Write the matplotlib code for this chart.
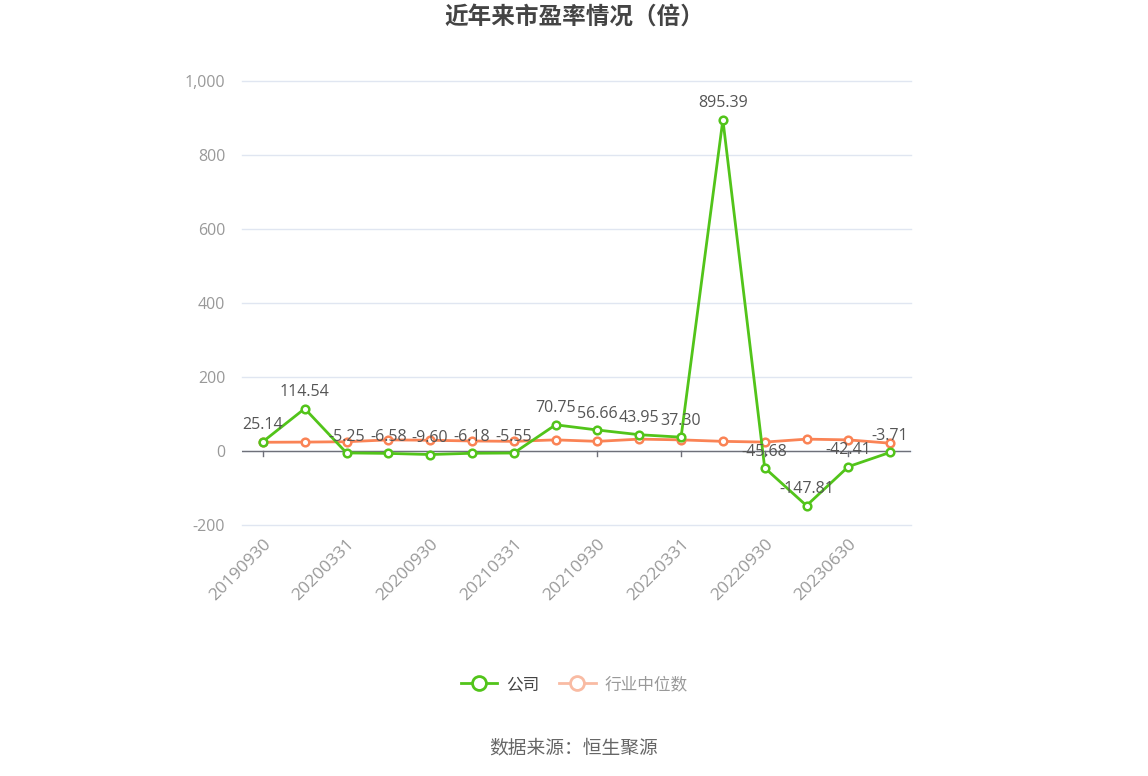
import matplotlib
matplotlib.use("Agg")
import matplotlib.pyplot as plt
from matplotlib.lines import Line2D
from matplotlib.ticker import FuncFormatter

plt.rcParams['font.family'] = ['Open Sans', 'Noto Sans CJK SC', 'DejaVu Sans']

dates = ["20190930", "20191231", "20200331", "20200630", "20200930", "20201231",
         "20210331", "20210630", "20210930", "20211231", "20220331", "20220630",
         "20220930", "20230331", "20230630", "20230930"]
company_pe = [25.14, 114.54, -5.25, -6.58, -9.60, -6.18, -5.55, 70.75,
              56.66, 43.95, 37.30, 895.39, -45.68, -147.81, -42.41, -3.71]
industry_pe = [23.5, 24, 25, 30, 29, 27, 26, 30, 26, 32, 30, 26, 24, 32, 30, 21]

GREEN = "#52c41a"
ORANGE = "#fa8355"

fig = plt.figure(figsize=(11.48, 7.76), dpi=100)
ax = fig.add_axes([0.2108, 0.3235, 0.5828, 0.5721])

x = list(range(len(dates)))
ax.plot(x, industry_pe, color=ORANGE, lw=2, marker="o", ms=5.5,
        mfc="white", mec=ORANGE, mew=1.8, zorder=3)
ax.plot(x, company_pe, color=GREEN, lw=2, marker="o", ms=5.5,
        mfc="white", mec=GREEN, mew=1.8, zorder=4)

for i, v in enumerate(company_pe):
    ax.annotate(f"{v:.2f}", (i, v), xytext=(0, 6), textcoords="offset points",
                ha="center", va="bottom", fontsize=11.5, color="#555555", zorder=5)

ax.set_xlim(-0.5, 15.5)
ax.set_ylim(-200, 1000)
ax.set_yticks(range(-200, 1001, 200))
ax.yaxis.set_major_formatter(FuncFormatter(lambda v, p: f"{int(v):,}"))
ax.grid(axis="y", color="#e0e6f1", lw=1, clip_on=False)
ax.set_axisbelow(True)
for s in ax.spines.values():
    s.set_visible(False)
ax.axhline(0, color="#6e7079", lw=1, zorder=2)

ax.set_xticks(x[::2])
ax.set_xticklabels(dates[::2], rotation=45, ha="right", rotation_mode="anchor",
                   fontsize=12.5, color="#999999")
ax.tick_params(axis="x", length=0, pad=8)
ax.tick_params(axis="y", length=0, labelsize=11.5, labelcolor="#999999", pad=12)
for xi in x[::2]:
    ax.plot([xi, xi], [0, -14], color="#6e7079", lw=1, zorder=2, clip_on=False)

fig.text(0.5, 0.977, "近年来市盈率情况（倍）", ha="center", va="center",
         fontsize=17, fontweight="bold", color="#444444")

handles = [
    Line2D([], [], color=GREEN, lw=2, marker="o", ms=10, mfc="white", mec=GREEN, mew=2),
    Line2D([], [], color="#f9bba3", lw=2, marker="o", ms=10, mfc="white", mec="#f9bba3", mew=2),
]
leg = fig.legend(handles, ["公司", "行业中位数"], loc="center", bbox_to_anchor=(0.5, 0.117),
                 ncol=2, frameon=False, fontsize=12, handlelength=2.2,
                 columnspacing=1.2, handletextpad=0.5)
leg.get_texts()[0].set_color("#444444")
leg.get_texts()[1].set_color("#999999")

fig.text(0.5, 0.036, "数据来源：恒生聚源", ha="center", va="center",
         fontsize=13.5, color="#666666")

fig.savefig("out.png", dpi=100)
